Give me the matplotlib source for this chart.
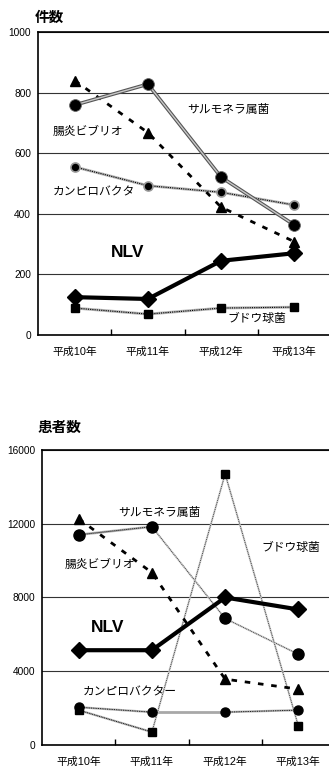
import matplotlib.pyplot as plt
import numpy as np

plt.rcParams['font.family'] = ['Liberation Sans', 'Noto Sans CJK JP', 'DejaVu Sans']

# Categories
years = ['平成10年', '平成11年', '平成12年', '平成13年']

# 件数 (incidents)
cnt_vibrio = [840, 668, 422, 308]
cnt_salmonella = [759, 828, 521, 363]
cnt_campylo = [555, 493, 471, 429]
cnt_nlv = [125, 119, 245, 270]
cnt_staph = [89, 69, 89, 92]

# 患者数 (patients)
pat_vibrio = [12270, 9350, 3570, 3030]
pat_salmonella = [11400, 11840, 6860, 4920]
pat_campylo = [2050, 1780, 1780, 1890]
pat_nlv = [5140, 5140, 8000, 7350]
pat_staph = [1890, 700, 14700, 1030]

x = np.arange(len(years))


def hatched(ax, xs, ys, lw=2.0):
    # grey line with a fine black dot pattern on top
    ax.plot(xs, ys, color='#b5b5b5', lw=lw, zorder=2, solid_capstyle='butt')
    ax.plot(xs, ys, color='black', lw=lw * 0.4, ls=(0, (1, 1)), zorder=2)


def thin_dotted(ax, xs, ys):
    ax.plot(xs, ys, color='#cfcfcf', lw=1.4, zorder=2)
    ax.plot(xs, ys, color='#222222', lw=0.6, ls=(0, (1, 1.2)), zorder=2)


def style_axes(ax, ymax, step):
    ax.set_xlim(-0.5, 3.5)
    ax.set_ylim(0, ymax)
    ax.set_yticks(np.arange(0, ymax + 1, step))
    ax.set_xticks(x)
    ax.set_xticklabels(years, fontsize=7.8)
    ax.set_xticks([0.5, 1.5, 2.5], minor=True)
    ax.tick_params(axis='x', which='major', length=0, pad=8)
    ax.tick_params(axis='x', which='minor', direction='in', length=4, width=1)
    ax.tick_params(axis='y', length=0, pad=5, labelsize=7.3)
    for s in ['top', 'right']:
        ax.spines[s].set_visible(False)
    ax.spines['left'].set_linewidth(1.2)
    ax.spines['bottom'].set_linewidth(1.2)
    ax.yaxis.grid(True, color='#333333', lw=0.8)
    ax.set_axisbelow(True)
    ax.axhline(ymax, color='black', lw=1.2, clip_on=False)


fig = plt.figure(figsize=(3.29, 7.7), dpi=100)

# ---- 件数 ----
ax1 = fig.add_axes([0.1155, 0.5649, 0.8906, 0.3935])
style_axes(ax1, 1000, 200)

ax1.plot(x, cnt_vibrio, color='black', lw=2, ls=(0, (2, 2.8)), zorder=3)
ax1.plot(x, cnt_vibrio, ls='none', marker='^', ms=7, color='black', zorder=4)

ax1.plot(x, cnt_salmonella, color='#555555', lw=2.6, zorder=3)
ax1.plot(x, cnt_salmonella, color='#c8c8c8', lw=1.0, zorder=3)
ax1.plot(x, cnt_salmonella, ls='none', marker='o', ms=8.5, color='black',
         mec='#666666', mew=0.6, zorder=4)

hatched(ax1, x, cnt_campylo)
ax1.plot(x, cnt_campylo, ls='none', marker='o', ms=6.5, color='black',
         mec='#999999', mew=1.2, zorder=4)

ax1.plot(x, cnt_nlv, color='black', lw=3, zorder=5)
ax1.plot(x, cnt_nlv, ls='none', marker='D', ms=8, color='black', zorder=5)

hatched(ax1, x, cnt_staph)
ax1.plot(x, cnt_staph, ls='none', marker='s', ms=5.5, color='black', zorder=4)

ax1.text(1.53, 743, 'サルモネラ属菌', fontsize=8.5, va='center', ha='left')
ax1.text(-0.3, 670, '腸炎ビブリオ', fontsize=8.5, va='center', ha='left')
ax1.text(-0.3, 469, 'カンピロバクタ', fontsize=8.5, va='center', ha='left')
ax1.text(0.5, 271, 'NLV', fontsize=12.5, fontweight='bold', va='center', ha='left')
ax1.text(2.09, 53, 'ブドウ球菌', fontsize=8.5, va='center', ha='left')
fig.text(35 / 329, 1 - 18 / 770, '件数', fontsize=10.5, fontweight='bold',
         va='center', ha='left')

# ---- 患者数 ----
ax2 = fig.add_axes([0.1277, 0.0325, 0.8906, 0.3831])
style_axes(ax2, 16000, 4000)

ax2.plot(x, pat_vibrio, color='black', lw=2, ls=(0, (2, 2.8)), zorder=3)
ax2.plot(x, pat_vibrio, ls='none', marker='^', ms=7, color='black', zorder=4)

hatched(ax2, x[:2], pat_salmonella[:2], lw=1.8)
thin_dotted(ax2, x[1:], pat_salmonella[1:])
ax2.plot(x, pat_salmonella, ls='none', marker='o', ms=8, color='black', zorder=4)

hatched(ax2, x[:2], pat_campylo[:2], lw=1.6)
ax2.plot(x[1:3], pat_campylo[1:3], color='#a8a8a8', lw=2, zorder=2)
hatched(ax2, x[2:], pat_campylo[2:], lw=1.6)
ax2.plot(x, pat_campylo, ls='none', marker='o', ms=6.5, color='black', zorder=4)

ax2.plot(x, pat_nlv, color='black', lw=3, zorder=5)
ax2.plot(x, pat_nlv, ls='none', marker='D', ms=8, color='black', zorder=5)

hatched(ax2, x[:2], pat_staph[:2], lw=1.6)
thin_dotted(ax2, x[1:], pat_staph[1:])
ax2.plot(x, pat_staph, ls='none', marker='s', ms=5.5, color='black', zorder=4)

ax2.text(0.54, 12590, 'サルモネラ属菌', fontsize=8.5, va='center', ha='left')
ax2.text(-0.19, 9780, '腸炎ビブリオ', fontsize=8.5, va='center', ha='left')
ax2.text(2.5, 10700, 'ブドウ球菌', fontsize=8.5, va='center', ha='left')
ax2.text(0.17, 6380, 'NLV', fontsize=12.5, fontweight='bold', va='center', ha='left')
ax2.text(0.05, 2865, 'カンピロバクター', fontsize=8.5, va='center', ha='left')
fig.text(38 / 329, 1 - 428 / 770, '患者数', fontsize=10.5, fontweight='bold',
         va='center', ha='left')

fig.savefig('out.png', dpi=100)
